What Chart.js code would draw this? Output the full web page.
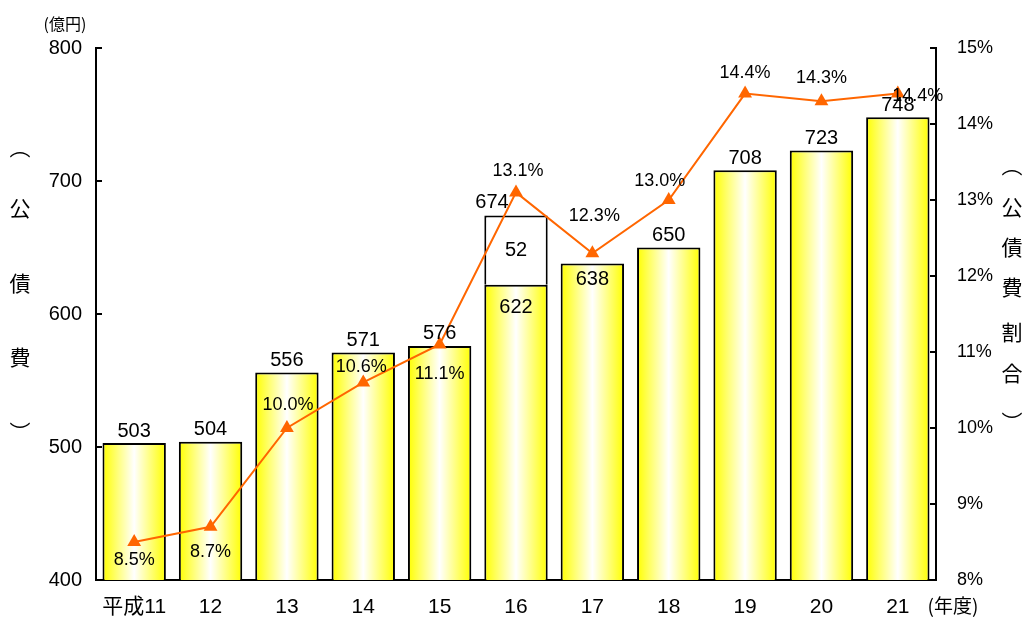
<!DOCTYPE html>
<html>
<head>
<meta charset="utf-8">
<script src="https://cdn.jsdelivr.net/npm/chart.js@4.4.1/dist/chart.umd.min.js"></script>
<style>
  html, body { margin: 0; padding: 0; background: #fff; }
  #wrap { width: 1029px; height: 622px; }
</style>
</head>
<body>
<div id="wrap"><canvas id="myChart" width="1029" height="622"></canvas></div>
<script>
// data
const categories = ['平成11', '12', '13', '14', '15', '16', '17', '18', '19', '20', '21'];
const debtBase = [503, 504, 556, 571, 576, 622, 638, 650, 708, 723, 748];
const debtExtra = [null, null, null, null, null, 52, null, null, null, null, null];
const debtRatio = [8.5, 8.7, 10.0, 10.6, 11.1, 13.1, 12.3, 13.0, 14.4, 14.3, 14.4];
const leftTicks = [400, 500, 600, 700, 800];
const rightTicks = [8, 9, 10, 11, 12, 13, 14, 15];

const NUM_FONT = '"Liberation Sans", Arial, sans-serif';
const JP_FONT = '"Noto Sans CJK JP", "Noto Sans", sans-serif';
const ORANGE = '#ff6600';
const BAR_PCT = 0.83;

//yellow-white-yellow bar fill
function barFill(ctx) {
  const chart = ctx.chart;
  const xs = chart.scales.x;
  if (!xs || !chart.chartArea) return '#ffff00';
  const cx = xs.getPixelForValue(ctx.dataIndex);
  const w = xs.width / categories.length * BAR_PCT;
  const g = chart.ctx.createLinearGradient(cx - w / 2, 0, cx + w / 2, 0);
  g.addColorStop(0, '#ffff00');
  g.addColorStop(0.5, '#ffffff');
  g.addColorStop(1, '#ffff00');
  return g;
}

// ticks, labels and titles
const decorations = {
  id: 'decorations',
  afterDatasetsDraw(chart) {
    const c = chart.ctx;
    const ys = chart.scales.y, y2 = chart.scales.y2;
    const area = chart.chartArea;
    c.save();
    c.strokeStyle = '#000';
    c.lineWidth = 2;
    leftTicks.forEach(v => {
      const py = Math.round(ys.getPixelForValue(v));
      c.beginPath(); c.moveTo(area.left, py); c.lineTo(area.left + 6, py); c.stroke();
    });
    rightTicks.forEach(v => {
      const py = Math.round(y2.getPixelForValue(v));
      c.beginPath(); c.moveTo(area.right, py); c.lineTo(area.right - 6, py); c.stroke();
    });

    c.fillStyle = '#000';
    c.textBaseline = 'middle';
    c.textAlign = 'center';
    c.font = '20px ' + NUM_FONT;

    // bar value labels
    const base = chart.getDatasetMeta(0).data;
    const extra = chart.getDatasetMeta(1).data;
    base.forEach((el, i) => {
      if (debtExtra[i] != null) {
        const top = extra[i];
        c.fillText(String(debtBase[i] + debtExtra[i]), el.x - 24, top.y - 13);
        c.fillText(String(debtExtra[i]), el.x, (top.y + el.y) / 2);
        c.fillText(String(debtBase[i]), el.x, el.y + 23);
      } else if (i === 6) {
        c.fillText(String(debtBase[i]), el.x, el.y + 16);
      } else {
        c.fillText(String(debtBase[i]), el.x, el.y - 12);
      }
    });

    // ratio labels
    const pctOffsets = [[0, 18], [0, 25], [1, -23], [-2, -15], [0, 30], [2, -21], [2, -37], [-9, -19], [0, -21], [0, -23], [20, 2]];
    c.font = '18px ' + NUM_FONT;
    chart.getDatasetMeta(2).data.forEach((pt, i) => {
      const o = pctOffsets[i];
      c.fillText(debtRatio[i].toFixed(1) + '%', pt.x + o[0], pt.y + o[1]);
    });

    // units
    c.font = '16px ' + JP_FONT;
    c.fillText('(億円)', 65, 24);
    c.font = '19px ' + JP_FONT;
    c.fillText('(年度)', 953, 606);

    // vertical axis titles
    c.font = '21px ' + JP_FONT;
    const leftTitle = [['︵', 147], ['公', 208], ['債', 283], ['費', 357], ['︶', 432]];
    leftTitle.forEach(t => c.fillText(t[0], 20, t[1]));
    const rightTitle = [['︵', 165], ['公', 207], ['債', 247], ['費', 287], ['割', 332], ['合', 373], ['︶', 422]];
    rightTitle.forEach(t => c.fillText(t[0], 1012, t[1]));
    c.restore();
  }
};

const ctx = document.getElementById('myChart').getContext('2d');
new Chart(ctx, {
  data: {
    labels: categories,
    datasets: [
      {
        type: 'bar',
        data: debtBase,
        backgroundColor: barFill,
        borderColor: '#000',
        borderWidth: 2,
        borderSkipped: false,
        barPercentage: BAR_PCT,
        categoryPercentage: 1,
        yAxisID: 'y',
        order: 1
      },
      {
        type: 'bar',
        data: debtExtra,
        backgroundColor: '#ffffff',
        borderColor: '#000',
        borderWidth: 2,
        borderSkipped: 'bottom',
        barPercentage: BAR_PCT,
        categoryPercentage: 1,
        yAxisID: 'y',
        order: 1
      },
      {
        type: 'line',
        data: debtRatio,
        borderColor: ORANGE,
        backgroundColor: ORANGE,
        borderWidth: 2,
        pointStyle: 'triangle',
        pointRadius: 8,
        pointBorderWidth: 0,
        tension: 0,
        yAxisID: 'y2',
        clip: false,
        order: 0
      }
    ]
  },
  options: {
    responsive: false,
    animation: false,
    layout: { padding: { top: 48, left: 0, right: 0, bottom: 0 } },
    plugins: {
      legend: { display: false },
      tooltip: { enabled: false }
    },
    scales: {
      x: {
        stacked: true,
        grid: { display: false, drawTicks: false },
        border: { display: true, color: '#000', width: 2 },
        ticks: { color: '#000', padding: 15, font: { size: 21, family: NUM_FONT + ', ' + JP_FONT }, maxRotation: 0 },
        afterFit(s) { s.height = 42; }
      },
      y: {
        stacked: true,
        position: 'left',
        min: 400,
        max: 800,
        grid: { display: false, drawTicks: false },
        border: { display: true, color: '#000', width: 2 },
        ticks: { stepSize: 100, color: '#000', padding: 14, font: { size: 20, family: NUM_FONT } },
        afterFit(s) { s.width = 96; }
      },
      y2: {
        position: 'right',
        min: 8,
        max: 15,
        grid: { display: false, drawTicks: false },
        border: { display: true, color: '#000', width: 2 },
        ticks: { stepSize: 1, color: '#000', padding: 21, font: { size: 18, family: NUM_FONT }, callback: v => v + '%' },
        afterFit(s) { s.width = 93; }
      }
    }
  },
  plugins: [decorations]
});
</script>
</body>
</html>
